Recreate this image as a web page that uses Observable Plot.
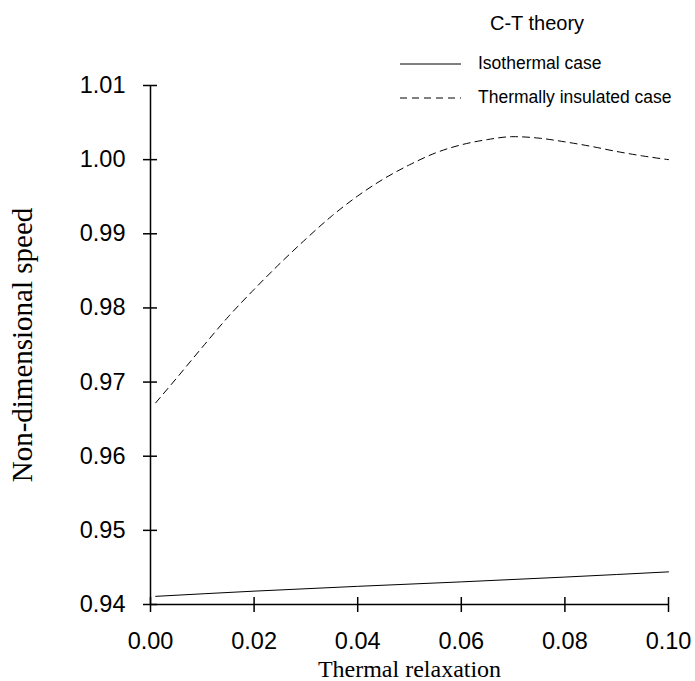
<!DOCTYPE html>
<html>
<head>
<meta charset="utf-8">
<script src="https://cdn.jsdelivr.net/npm/d3@7"></script>
<script src="https://cdn.jsdelivr.net/npm/@observablehq/plot@0.6"></script>
<style>
  html, body { margin: 0; padding: 0; background: white; }
  #wrap { position: relative; width: 695px; height: 681px; }
  #legend { position: absolute; left: 0; top: 0; width: 695px; height: 110px; pointer-events: none;
            font-family: "Liberation Sans", Arial, sans-serif; color: #000; }
  .lg { position: absolute; white-space: nowrap; line-height: 1; }
</style>
</head>
<body>
<div id="wrap">
  <div id="chart"></div>
  <div id="legend"></div>
</div>
<script>
// ---- data ----
const xTicks = [0, 0.02, 0.04, 0.06, 0.08, 0.10];
const yTicks = [0.94, 0.95, 0.96, 0.97, 0.98, 0.99, 1.00, 1.01];

const isoX = [0.001, 0.02, 0.04, 0.06, 0.08, 0.10];
const isoY = [0.9411, 0.9418, 0.94245, 0.94305, 0.9437, 0.9444];

const insX = [0.001, 0.005, 0.010, 0.015, 0.020, 0.025, 0.030, 0.035, 0.040, 0.045, 0.050,
              0.055, 0.060, 0.065, 0.070, 0.075, 0.080, 0.085, 0.090, 0.095, 0.100];
const insY = [0.9672, 0.9705, 0.9747, 0.9788, 0.9825, 0.9860, 0.9893, 0.9924, 0.9951, 0.9974, 0.9993,
              1.0009, 1.0020, 1.0027, 1.0031, 1.0029, 1.0024, 1.0018, 1.0011, 1.0005, 1.0000];

const seriesNames = ["Isothermal case", "Thermally insulated case"];
const legendTitle = "C-T theory";
const xLabel = "Thermal relaxation";
const yLabel = "Non-dimensional speed";

const iso = isoX.map((x, i) => ({x, y: isoY[i]}));
const ins = insX.map((x, i) => ({x, y: insY[i]}));

const tickFont = "Liberation Sans, Arial, sans-serif";
const titleFont = "Liberation Serif, Times New Roman, serif";

const chart = Plot.plot({
  width: 695,
  height: 681,
  marginLeft: 150,
  marginRight: 27,
  marginTop: 85,
  marginBottom: 77,
  style: {background: "white", color: "#000"},
  x: {domain: [0, 0.10]},
  y: {domain: [0.94, 1.01]},
  marks: [
    // axis lines
    Plot.ruleX([0], {y1: 0.94, y2: 1.01, stroke: "#000", strokeWidth: 1.5}),
    Plot.ruleY([0.94], {x1: 0, x2: 0.10, stroke: "#000", strokeWidth: 1.5}),
    // y axis ticks + labels (ticks cross the axis line)
    Plot.axisY({ticks: yTicks, tickSize: 14, dx: 7, tickPadding: 18, tickFormat: d3.format(".2f"),
                fontSize: 23.5, fontFamily: tickFont, strokeWidth: 1.5, label: null}),
    Plot.axisY({ticks: [], label: yLabel, labelAnchor: "center", labelOffset: 139, labelArrow: "none",
                fontSize: 29, fontFamily: titleFont}),
    // x axis ticks + labels
    Plot.axisX({ticks: xTicks, tickSize: 15, dy: -7, tickPadding: 20, tickFormat: d3.format(".2f"),
                fontSize: 23.5, fontFamily: tickFont, strokeWidth: 1.5, label: null}),
    Plot.axisX({ticks: [], label: xLabel, labelAnchor: "center", labelOffset: 72, labelArrow: "none",
                fontSize: 24, fontFamily: titleFont}),
    // curves
    Plot.line(iso, {x: "x", y: "y", stroke: "#000", strokeWidth: 1, curve: "monotone-x"}),
    Plot.line(ins, {x: "x", y: "y", stroke: "#000", strokeWidth: 1, strokeDasharray: "7,5", curve: "monotone-x"})
  ]
});
document.getElementById("chart").appendChild(chart);

// legend overlay
const lg = document.getElementById("legend");
lg.innerHTML = `
  <div class="lg" style="left:537px; top:23px; transform:translate(-50%,-50%); font-size:20px;">${legendTitle}</div>
  <svg style="position:absolute; left:0; top:0;" width="695" height="110">
    <line x1="400" x2="461" y1="64" y2="64" stroke="#000" stroke-width="1"/>
    <line x1="400" x2="461" y1="98" y2="98" stroke="#000" stroke-width="1" stroke-dasharray="7,5"/>
  </svg>
  <div class="lg" style="left:478px; top:64px; transform:translateY(-50%); font-size:17.5px;">${seriesNames[0]}</div>
  <div class="lg" style="left:478px; top:98px; transform:translateY(-50%); font-size:17.5px;">${seriesNames[1]}</div>
`;
</script>
</body>
</html>
